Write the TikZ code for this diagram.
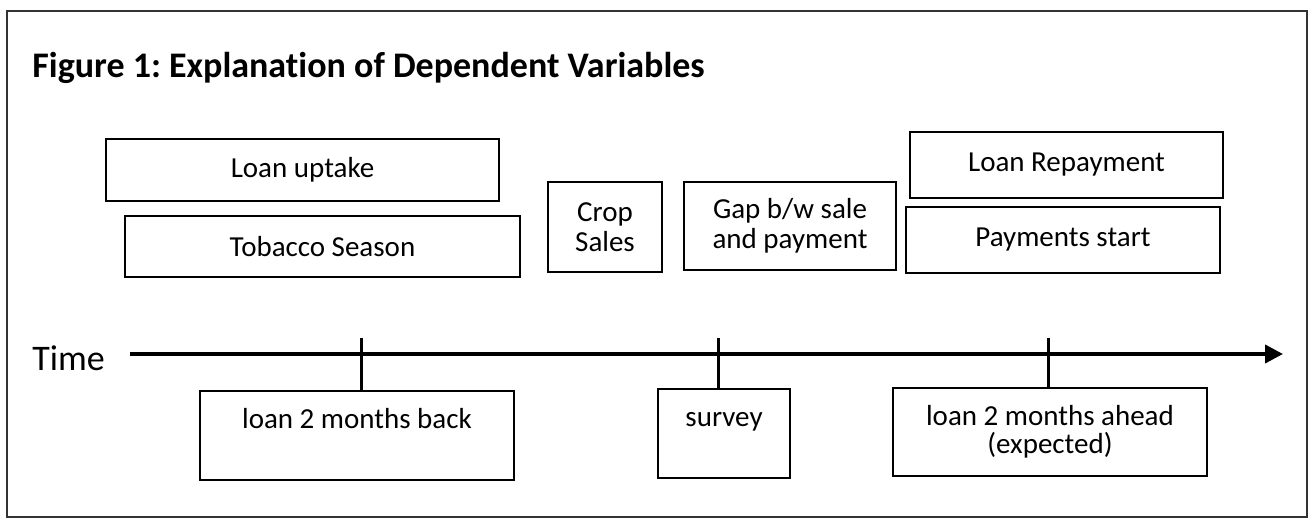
\documentclass[tikz,border=0pt]{standalone}
\usepackage{fontspec}
\setmainfont{Carlito}[RawFeature={-liga}]
\usetikzlibrary{arrows.meta}
\frenchspacing

\begin{document}
\begin{tikzpicture}[x=0.5pt, y=-0.5pt,
  box/.style={draw, line width=1.3pt, inner sep=0pt, align=center, font=\fontsize{14.5}{15}\selectfont},
  lowbox/.style={box, text height=18.5pt, text depth=26pt}]
\useasboundingbox (0,0) rectangle (1309,519);
\draw[line width=0.9pt, black!80] (7,11) rectangle (1307,517);
\node[anchor=base west, inner sep=0pt, font=\fontsize{18}{20}\selectfont\bfseries] (title) at (32,77) {Figure 1: Explanation of Dependent Variables};
\node[box, minimum width=196.5pt, minimum height=31pt] (uptake) at (302.5,170) {Loan uptake};
\node[box, minimum width=197.5pt, minimum height=30.5pt] (tobacco) at (322.5,246.5) {Tobacco Season};
\node[box, minimum width=57pt, minimum height=45pt] (crop) at (605,227) {Crop\\Sales};
\node[box, minimum width=106pt, minimum height=44pt] (gap) at (790,226) {Gap b/w sale\\and payment};
\node[box, minimum width=156.5pt, minimum height=33pt] (repay) at (1066.5,165) {Loan Repayment};
\node[box, minimum width=157pt, minimum height=33pt] (paystart) at (1063,240) {Payments start};
\node[anchor=base west, inner sep=0pt, font=\fontsize{18}{20}\selectfont] (time) at (32,370) {Time};
\coordinate (axstart) at (130,354);
\coordinate (axend) at (1283,354);
\draw[line width=2pt, -{Triangle[length=9pt,width=9pt]}] (axstart) -- (axend);
\node[lowbox, minimum width=157pt] (back) at (357,435.5) {loan 2 months back};
\node[lowbox, minimum width=66pt] (survey) at (724,433.5) {survey};
\node[lowbox, minimum width=157pt, font=\fontsize{14.5}{14}\selectfont, text height=32.5pt, text depth=11.5pt] (ahead) at (1050,432) {loan 2 months ahead\\(expected)};
\foreach \tk/\bx in {361/back, 718/survey, 1048/ahead} {
\coordinate (tk) at (\tk,338);
\draw[line width=1.5pt] (tk) -- (tk |- \bx.north);
}
\end{tikzpicture}
\end{document}
